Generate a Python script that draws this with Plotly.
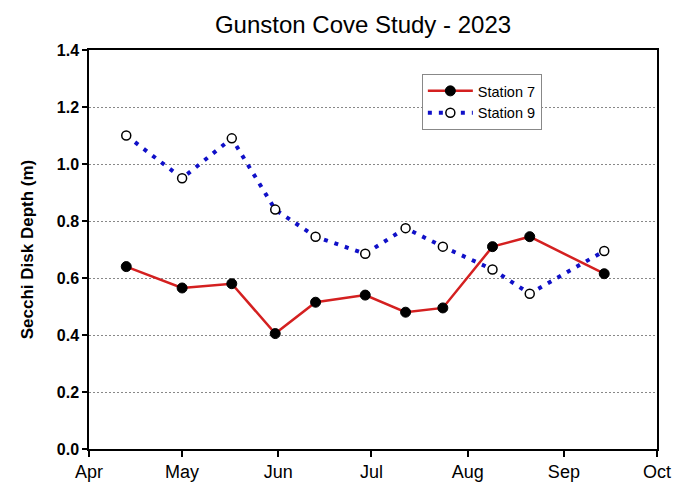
import plotly.graph_objects as go

# Sampling dates and Secchi depth readings (m)
dates = ["2023-04-13", "2023-05-01", "2023-05-17", "2023-05-31", "2023-06-13",
         "2023-06-29", "2023-07-12", "2023-07-24", "2023-08-09", "2023-08-21",
         "2023-09-14"]
station7 = [0.64, 0.565, 0.58, 0.405, 0.515, 0.54, 0.48, 0.495, 0.71, 0.745, 0.615]
station9 = [1.10, 0.95, 1.09, 0.84, 0.745, 0.685, 0.775, 0.71, 0.63, 0.545, 0.695]

month_ticks = ["2023-04-01", "2023-05-01", "2023-06-01", "2023-07-01",
               "2023-08-01", "2023-09-01", "2023-10-01"]
month_labels = ["Apr", "May", "Jun", "Jul", "Aug", "Sep", "Oct"]
y_ticks = [0.0, 0.2, 0.4, 0.6, 0.8, 1.0, 1.2, 1.4]

FONT = "Arial, 'Liberation Sans', sans-serif"

fig = go.Figure()
fig.add_trace(go.Scatter(
    x=dates, y=station7, name="Station 7", mode="lines+markers",
    line=dict(color="#d42020", width=2.5),
    marker=dict(symbol="circle", size=10, color="black",
                line=dict(color="black", width=1)),
))
fig.add_trace(go.Scatter(
    x=dates, y=station9, name="Station 9", mode="lines+markers",
    line=dict(color="#1010c8", width=4, dash="4px,7px"),
    marker=dict(symbol="circle", size=9, color="white",
                line=dict(color="black", width=1.5)),
))

fig.update_layout(
    width=673, height=491,
    margin=dict(l=89, r=16, t=50, b=42, autoexpand=False),
    paper_bgcolor="white", plot_bgcolor="white",
    font=dict(family=FONT, color="black"),
    title=dict(text="Gunston Cove Study - 2023", x=363 / 673, xref="container",
               xanchor="center", y=1 - 25 / 491, yanchor="middle",
               font=dict(size=24, family=FONT, color="black")),
    legend=dict(x=0.586, y=0.94, xanchor="left", yanchor="top",
                bgcolor="white", bordercolor="#888888", borderwidth=1,
                font=dict(size=14.5, family=FONT, color="black"),
                itemwidth=45, tracegroupgap=0),
    showlegend=True,
)

fig.update_xaxes(
    type="date", range=["2023-04-01", "2023-10-01"], automargin=False,
    tickmode="array", tickvals=month_ticks, ticktext=month_labels,
    ticks="outside", ticklen=6, tickwidth=1.5, tickcolor="black",
    showline=True, linecolor="black", linewidth=1.5, mirror=True,
    showgrid=False, zeroline=False,
    tickfont=dict(size=18, family=FONT, color="black"),
)
fig.update_yaxes(
    range=[0, 1.4], automargin=False, tickmode="array", tickvals=y_ticks,
    ticktext=[f"<b>{v:.1f}</b>" for v in y_ticks],
    ticks="outside", ticklen=5, tickwidth=1.5, tickcolor="black",
    showline=True, linecolor="black", linewidth=1.5, mirror=True,
    showgrid=True, gridcolor="#888888", gridwidth=1, griddash="2px,2px",
    zeroline=False,
    tickfont=dict(size=16, family=FONT, color="black"),
    title=dict(text="<b>Secchi Disk Depth (m)</b>", standoff=19,
               font=dict(size=17, family=FONT, color="black")),
)

fig.write_html("out.html")
